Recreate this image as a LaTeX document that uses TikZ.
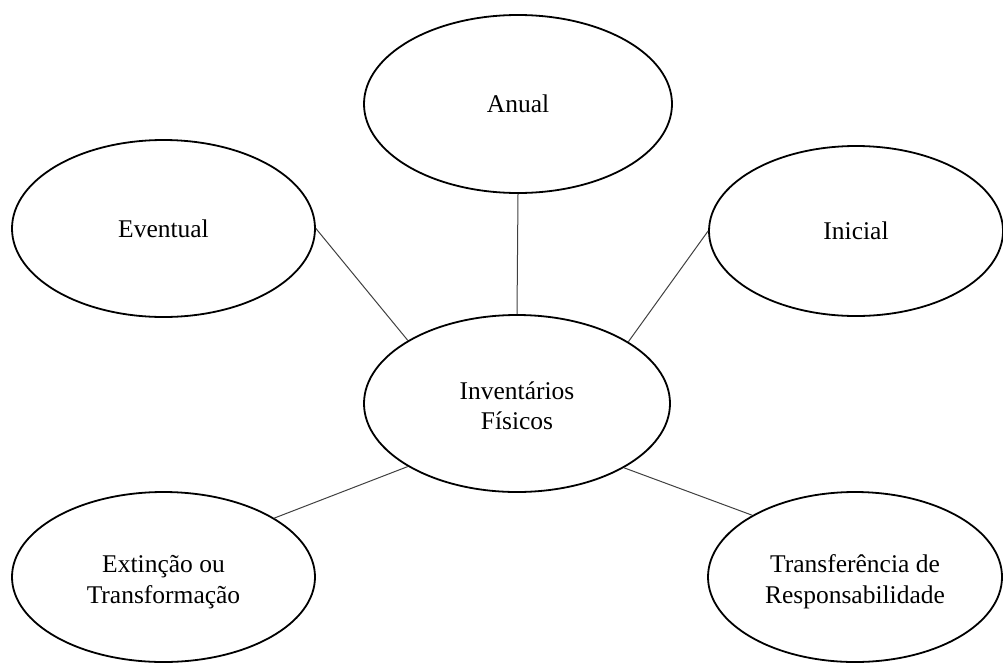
\documentclass[tikz,border=0pt]{standalone}
\usepackage{fontspec}
\setmainfont{Liberation Serif}
\usetikzlibrary{shapes.geometric}
% two-line label set a little below the middle of its ellipse
\newcommand\lowtwo[2]{\raisebox{-5pt}[\height][\depth]{%
  \begin{tabular}{@{}c@{}}#1\\#2\end{tabular}}}
\begin{document}
\begin{tikzpicture}[x=1pt,y=-1pt,
  bubble/.style={ellipse, draw=black, line width=1.8pt, inner sep=0pt,
    align=center, font=\fontsize{25.5}{30.5}\selectfont},
  outer/.style={bubble, minimum width=303pt, minimum height=172pt},
  link/.style={draw=black!75, line width=1pt}]
\useasboundingbox (0,0) rectangle (1003,664);

% central concept
\node[bubble, minimum width=306pt, minimum height=177pt] (inv) at (517,403.5)
  {\lowtwo{Inventários}{Físicos}};

% kinds of physical inventory
\node[bubble, minimum width=308pt, minimum height=178pt] (anual) at (518,104) {Anual};
\node[outer, minimum height=177pt] (event) at (163.5,228.5) {Eventual};
\node[outer, minimum width=294pt, minimum height=170pt] (inic) at (856,231) {Inicial};
\node[outer, minimum height=170pt] (ext) at (163.5,577) {\lowtwo{Extinção ou}{Transformação}};
\node[outer, minimum width=294pt, minimum height=170pt] (transf) at (855,577)
  {\lowtwo{Transferência de}{Responsabilidade}};

% spokes
\draw[link] (anual.south) -- (inv.north);
\draw[link] (event.east) -- (inv.150.6);
\draw[link] (inic.west) -- (inv.29.4);
\draw[link] (ext.28.7) -- (inv.210.4);
\draw[link] (transf.149.8) -- (inv.329.6);
\end{tikzpicture}
\end{document}
